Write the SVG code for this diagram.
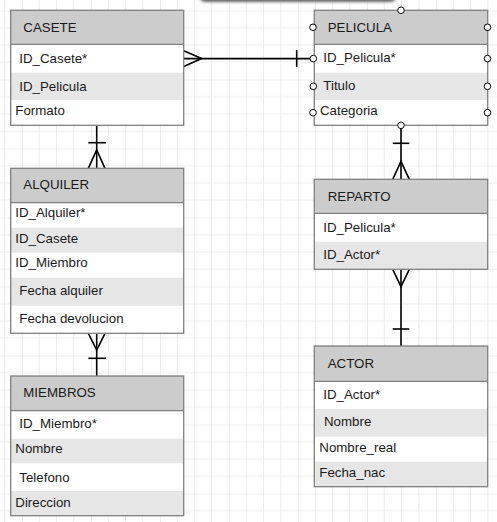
<svg xmlns="http://www.w3.org/2000/svg" width="497" height="522" viewBox="0 0 497 522">
<style>
  .t{font-family:"Liberation Sans",Arial,sans-serif;font-size:13.3px;fill:#1a1a1a}
  .hd{fill:#cccccc}
  .alt{fill:#e6e6e6}
  .box{fill:none;stroke:#7f7f7f;stroke-width:1.3}
  .sep{stroke:#7f7f7f;stroke-width:1.3}
  .c{fill:none;stroke:#000;stroke-width:1.6}
  .port{fill:#fff;stroke:#000;stroke-width:1}
</style>
<defs>
  <pattern id="grid" patternUnits="userSpaceOnUse" x="22" y="10.5" width="69" height="69">
    <path d="M17.25 0V69M34.5 0V69M51.75 0V69M0 17.25H69M0 34.5H69M0 51.75H69" stroke="#ececec" stroke-width="1" fill="none"/>
    <path d="M0 0V69M0 0H69" stroke="#dedede" stroke-width="1" fill="none"/>
  </pattern>
  <filter id="sh" x="-10%" y="-100%" width="120%" height="300%">
    <feGaussianBlur stdDeviation="1.6"/>
  </filter>
</defs>
<rect width="497" height="522" fill="#fff"/>
<rect width="497" height="522" fill="url(#grid)"/>
<rect x="200" y="-14" width="196" height="16" rx="5" fill="#666" filter="url(#sh)"/>
<rect x="202" y="-14" width="192" height="14" rx="4" fill="#fff"/>

<g id="connectors">
  <!-- CASETE - PELICULA -->
  <path class="c" d="M183.7 58.6H313"/>
  <path class="c" d="M183.7 50.7L201.7 58.6L183.7 66.5"/>
  <path class="c" d="M296.7 50V67"/>
  <!-- PELICULA - REPARTO -->
  <path class="c" d="M401 125.3V179.3"/>
  <path class="c" d="M392.7 143.3H409.3"/>
  <path class="c" d="M392.7 179.3L401 161.5L409.3 179.3"/>
  <!-- REPARTO - ACTOR -->
  <path class="c" d="M401 269.3V346"/>
  <path class="c" d="M392.7 269.3L401 286.7L409.3 269.3"/>
  <path class="c" d="M392.7 329H409.3"/>
  <!-- CASETE - ALQUILER -->
  <path class="c" d="M96.7 125.3V168.3"/>
  <path class="c" d="M88.3 142.7H106"/>
  <path class="c" d="M88.3 168.3L96.7 150L105 168.3"/>
  <!-- ALQUILER - MIEMBROS -->
  <path class="c" d="M96.7 333.3V376"/>
  <path class="c" d="M88.3 333.3L96.7 350L105 333.3"/>
  <path class="c" d="M88.3 358.3H106"/>
</g>

<g id="CASETE">
  <rect x="10.7" y="10.3" width="173" height="115" fill="#fff"/>
  <rect class="hd" x="10.7" y="10.3" width="173" height="34"/>
  <rect class="alt" x="10.7" y="72.7" width="173" height="27.3"/>
  <line class="sep" x1="10.7" y1="44.3" x2="183.7" y2="44.3"/>
  <rect class="box" x="10.7" y="10.3" width="173" height="115"/>
  <text class="t" x="23.3" y="31.7">CASETE</text>
  <text class="t" x="19.3" y="62.7">ID_Casete*</text>
  <text class="t" x="19.3" y="90.7">ID_Pelicula</text>
  <text class="t" x="15.3" y="115">Formato</text>
</g>

<g id="PELICULA">
  <rect x="314.3" y="10.3" width="173.4" height="115" fill="#fff"/>
  <rect class="hd" x="314.3" y="10.3" width="173.4" height="34"/>
  <rect class="alt" x="314.3" y="72.7" width="173.4" height="27.3"/>
  <line class="sep" x1="314.3" y1="44.3" x2="487.7" y2="44.3"/>
  <rect class="box" x="314.3" y="10.3" width="173.4" height="115"/>
  <text class="t" x="327.7" y="31.7">PELICULA</text>
  <text class="t" x="323.3" y="62.3">ID_Pelicula*</text>
  <text class="t" x="323.3" y="90.3">Titulo</text>
  <text class="t" x="320" y="115">Categoria</text>
  <circle class="port" cx="401" cy="10.3" r="3.3"/>
  <circle class="port" cx="401" cy="125.3" r="3.3"/>
  <circle class="port" cx="313" cy="27.3" r="3.3"/>
  <circle class="port" cx="313.3" cy="58.6" r="3.3"/>
  <circle class="port" cx="313.3" cy="86.3" r="3.3"/>
  <circle class="port" cx="313" cy="112.7" r="3.3"/>
  <circle class="port" cx="487.5" cy="27.3" r="3.3"/>
  <circle class="port" cx="487.5" cy="58.6" r="3.3"/>
  <circle class="port" cx="487.5" cy="86.3" r="3.3"/>
  <circle class="port" cx="487.5" cy="112.7" r="3.3"/>
</g>

<g id="ALQUILER">
  <rect x="10.7" y="168.3" width="173" height="165" fill="#fff"/>
  <rect class="hd" x="10.7" y="168.3" width="173" height="34.4"/>
  <rect class="alt" x="10.7" y="227.7" width="173" height="25"/>
  <rect class="alt" x="10.7" y="277.7" width="173" height="28"/>
  <line class="sep" x1="10.7" y1="202.7" x2="183.7" y2="202.7"/>
  <rect class="box" x="10.7" y="168.3" width="173" height="165"/>
  <text class="t" x="23.3" y="189.3">ALQUILER</text>
  <text class="t" x="15.3" y="217.3">ID_Alquiler*</text>
  <text class="t" x="15.3" y="242.7">ID_Casete</text>
  <text class="t" x="15.3" y="267.3">ID_Miembro</text>
  <text class="t" x="19.3" y="295">Fecha alquiler</text>
  <text class="t" x="19.3" y="323.3">Fecha devolucion</text>
</g>

<g id="MIEMBROS">
  <rect x="10.7" y="376" width="173" height="139.7" fill="#fff"/>
  <rect class="hd" x="10.7" y="376" width="173" height="34.7"/>
  <rect class="alt" x="10.7" y="438.7" width="173" height="24.6"/>
  <rect class="alt" x="10.7" y="491" width="173" height="24.7"/>
  <line class="sep" x1="10.7" y1="410.7" x2="183.7" y2="410.7"/>
  <rect class="box" x="10.7" y="376" width="173" height="139.7"/>
  <text class="t" x="23.3" y="397.3">MIEMBROS</text>
  <text class="t" x="19.3" y="428.3">ID_Miembro*</text>
  <text class="t" x="15.3" y="453.3">Nombre</text>
  <text class="t" x="19.3" y="481.7">Telefono</text>
  <text class="t" x="15.3" y="506.7">Direccion</text>
</g>

<g id="REPARTO">
  <rect x="314.3" y="179.3" width="173.4" height="90" fill="#fff"/>
  <rect class="hd" x="314.3" y="179.3" width="173.4" height="34"/>
  <rect class="alt" x="314.3" y="241.7" width="173.4" height="27.6"/>
  <line class="sep" x1="314.3" y1="213.3" x2="487.7" y2="213.3"/>
  <rect class="box" x="314.3" y="179.3" width="173.4" height="90"/>
  <text class="t" x="327.7" y="200.7">REPARTO</text>
  <text class="t" x="323.3" y="231.7">ID_Pelicula*</text>
  <text class="t" x="323.3" y="259.3">ID_Actor*</text>
</g>

<g id="ACTOR">
  <rect x="314.3" y="346" width="173.4" height="140.7" fill="#fff"/>
  <rect class="hd" x="314.3" y="346" width="173.4" height="35.3"/>
  <rect class="alt" x="314.3" y="409" width="173.4" height="27.7"/>
  <rect class="alt" x="314.3" y="461.7" width="173.4" height="25"/>
  <line class="sep" x1="314.3" y1="381.3" x2="487.7" y2="381.3"/>
  <rect class="box" x="314.3" y="346" width="173.4" height="140.7"/>
  <text class="t" x="327.7" y="368.3">ACTOR</text>
  <text class="t" x="323.3" y="399.3">ID_Actor*</text>
  <text class="t" x="324" y="426">Nombre</text>
  <text class="t" x="319.3" y="451.7">Nombre_real</text>
  <text class="t" x="319.3" y="476.7">Fecha_nac</text>
</g>
</svg>
